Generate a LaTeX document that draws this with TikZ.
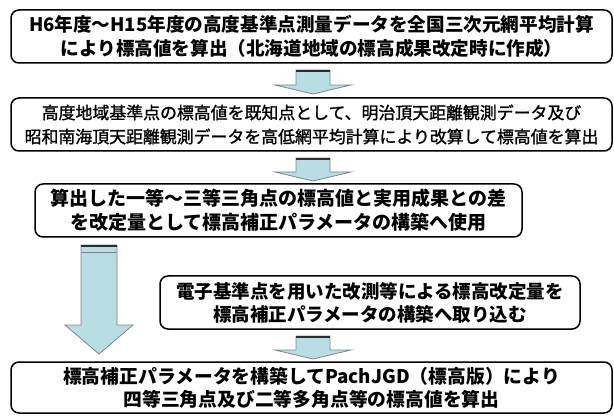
\documentclass[tikz,border=0pt]{standalone}
\usepackage{fontspec}
\newfontfamily\jp{Noto Sans CJK JP}
\newfontfamily\jpm[RawFeature={embolden=1.3}]{Noto Sans CJK JP}
\usetikzlibrary{calc}
\definecolor{arrfill}{RGB}{184,222,228}
\definecolor{arrline}{RGB}{125,135,138}
\definecolor{arrdark}{RGB}{40,45,48}
\tikzset{
  box/.style={draw=black, line width=1.5pt, rounded corners=8pt, fill=white,
    inner sep=0pt, align=center, text=black},
  arrbody/.style={fill=arrfill, draw=arrline, line width=0.8pt, line join=miter}
}
\newcommand\blkarrow[5]{%
  \filldraw[arrbody] ($(#1)+(-#3,0)$) -- ($(#1)+(#3,0)$) -- ($(#2)+(#3,-#5)$) -- ($(#2)+(#4,-#5)$) -- (#2) -- ($(#2)+(-#4,-#5)$) -- ($(#2)+(-#3,-#5)$) -- cycle;
  \draw[arrdark, line width=1.6pt] ($(#1)+(-#3,0.8)$) -- ($(#1)+(#3,0.8)$);
}
\begin{document}
\begin{tikzpicture}[x=1pt, y=-1pt]
\useasboundingbox (0,0) rectangle (614,417);

% boxes
\node[box, minimum width=601pt, minimum height=53pt, font={\jp\bfseries\fontsize{18.6}{24}\selectfont}]
  (b1) at (311.5,36.5) {H6年度～H15年度の高度基準点測量データを全国三次元網平均計算\\により標高値を算出（北海道地域の標高成果改定時に作成）};
\node[box, minimum width=601pt, minimum height=53pt, font={\jpm\fontsize{16.9}{24}\selectfont}]
  (b2) at (311.5,124.5) {高度地域基準点の標高値を既知点として、明治頂天距離観測データ及び\\昭和南海頂天距離観測データを高低網平均計算により改算して標高値を算出};
\node[box, minimum width=487pt, minimum height=53pt, font={\jp\bfseries\fontsize{19}{24}\selectfont}]
  (b3) at (278.5,210.5) {算出した一等～三等三角点の標高値と実用成果との差\\を改定量として標高補正パラメータの構築へ使用};
\node[box, minimum width=420pt, minimum height=53pt, font={\jp\bfseries\fontsize{18.5}{23}\selectfont}]
  (b4) at (370,302.5) {電子基準点を用いた改測等による標高改定量を\\標高補正パラメータの構築へ取り込む};
\node[box, minimum width=601pt, minimum height=51pt, font={\jp\bfseries\fontsize{18.8}{23}\selectfont}]
  (b5) at (311.5,387.5) {標高補正パラメータを構築してPachJGD（標高版）により\\四等三角点及び二等多角点等の標高値を算出};

% arrow anchor coordinates
\coordinate (a1t) at (313,70);  \coordinate (a1h) at (313,94);
\coordinate (a2t) at (313,158); \coordinate (a2h) at (313,181);
\coordinate (a3t) at (313,336); \coordinate (a3h) at (313,359);
\coordinate (a4t) at (99,245);  \coordinate (a4h) at (99,354);

% small block arrows
\blkarrow{a1t}{a1h}{17}{38}{9}
\blkarrow{a2t}{a2h}{17}{38}{9}
\blkarrow{a3t}{a3h}{17}{38}{9}

% big block arrow
\filldraw[arrbody] ($(a4t)+(-18,0)$) -- ($(a4t)+(18,0)$) -- ($(a4h)+(18,-29)$) -- ($(a4h)+(34,-29)$) -- (a4h) -- ($(a4h)+(-34,-29)$) -- ($(a4h)+(-18,-29)$) -- cycle;
\draw[arrdark, line width=1.6pt] ($(a4t)+(-18,1)$) -- ($(a4t)+(18,1)$);
\draw[arrline, line width=1pt] ($(a4t)+(-18,8)$) -- ($(a4t)+(18,8)$);
\end{tikzpicture}
\end{document}
